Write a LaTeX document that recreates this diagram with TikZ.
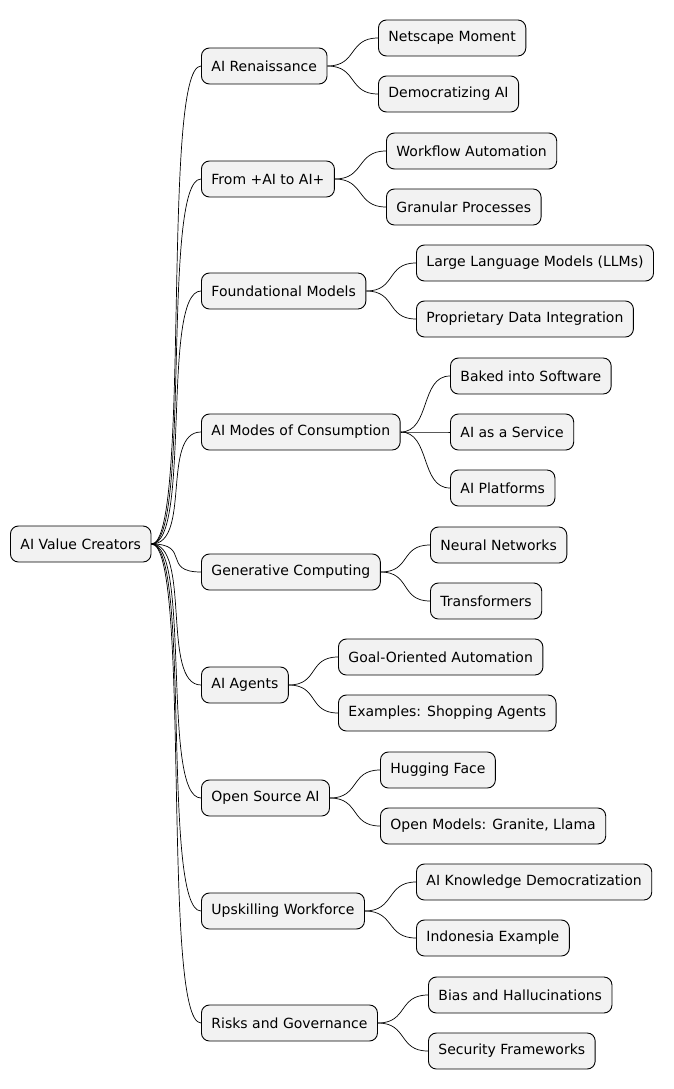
\documentclass[tikz,border=0pt]{standalone}
\usepackage{fontspec}
\setmainfont{DejaVu Sans}
\begin{document}
\begin{tikzpicture}[x=1pt,y=-1pt,
  box/.style={draw=black,line width=0.9pt,fill=gray!10,rounded corners=8pt,anchor=west,
    minimum height=36pt,inner xsep=10pt,font=\fontsize{14}{16}\selectfont},
  con/.style={draw=black,line width=0.7pt}]
\useasboundingbox (0,0) rectangle (674,1089);
\node[box] (r) at (10,544) {AI Value Creators};
\foreach \n/\x/\y/\t in {a/201/66/AI Renaissance, b/201/179/From +AI to AI+, c/201/291/Foundational Models,
  d/201/432/AI Modes of Consumption, e/201/572/Generative Computing, f/201/685/AI Agents,
  g/201/798/Open Source AI, h/201/911/Upskilling Workforce, i/201/1023/Risks and Governance}{
  \node[box] (\n) at (\x,\y) {\t};
  \draw[con] (r.east) .. controls +(40,0) and +(-40,0) .. (\n.west);
}
\foreach \p/\n/\x/\y/\t in {a/a1/378/38/Netscape Moment, a/a2/378/94/Democratizing AI,
  b/b1/386/151/Workflow Automation, b/b2/386/207/Granular Processes,
  c/c1/416/263/Large Language Models (LLMs), c/c2/416/319/Proprietary Data Integration,
  d/d1/450/376/Baked into Software, d/d2/450/432/AI as a Service, d/d3/450/488/AI Platforms,
  e/e1/430/545/Neural Networks, e/e2/430/601/Transformers,
  f/f1/338/657/Goal-Oriented Automation, f/f2/338/713/Examples: Shopping Agents,
  g/g1/380/770/Hugging Face, g/g2/380/826/{Open Models: Granite, Llama},
  h/h1/416/882/AI Knowledge Democratization, h/h2/416/938/Indonesia Example,
  i/i1/428/995/Bias and Hallucinations, i/i2/428/1051/Security Frameworks}{
  \node[box] (\n) at (\x,\y) {\t};
  \draw[con] (\p.east) .. controls +(30,0) and +(-30,0) .. (\n.west);
}
\end{tikzpicture}
\end{document}
